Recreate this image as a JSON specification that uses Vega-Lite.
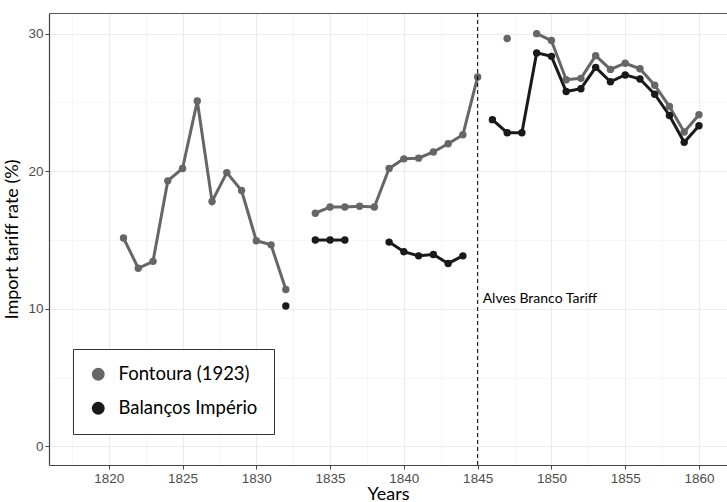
{
  "$schema": "https://vega.github.io/schema/vega-lite/v6.json",
  "width": 678,
  "height": 452,
  "autosize": {"type": "none"},
  "padding": {"left": 49, "top": 13, "right": 0, "bottom": 37},
  "background": "white",
  "config": {
    "view": {"stroke": null},
    "axis": {
      "domainColor": "#444444",
      "domainWidth": 1.2,
      "tickColor": "#444444",
      "tickSize": 4,
      "labelColor": "#4d4d4d",
      "labelFont": "Liberation Sans",
      "labelFontSize": 13.5,
      "titleFont": "Lato",
      "titleFontSize": 18,
      "titleFontWeight": "normal",
      "titleColor": "#000000",
      "gridColor": "#ebebeb",
      "labelOverlap": false,
      "labelFlush": false
    }
  },
  "datasets": {
    "tariffs": [
      {"year": 1821, "rate": 15.15, "source": "Fontoura (1923)", "seg": "A"},
      {"year": 1822, "rate": 12.95, "source": "Fontoura (1923)", "seg": "A"},
      {"year": 1823, "rate": 13.45, "source": "Fontoura (1923)", "seg": "A"},
      {"year": 1824, "rate": 19.3, "source": "Fontoura (1923)", "seg": "A"},
      {"year": 1825, "rate": 20.2, "source": "Fontoura (1923)", "seg": "A"},
      {"year": 1826, "rate": 25.1, "source": "Fontoura (1923)", "seg": "A"},
      {"year": 1827, "rate": 17.8, "source": "Fontoura (1923)", "seg": "A"},
      {"year": 1828, "rate": 19.9, "source": "Fontoura (1923)", "seg": "A"},
      {"year": 1829, "rate": 18.6, "source": "Fontoura (1923)", "seg": "A"},
      {"year": 1830, "rate": 14.95, "source": "Fontoura (1923)", "seg": "A"},
      {"year": 1831, "rate": 14.65, "source": "Fontoura (1923)", "seg": "A"},
      {"year": 1832, "rate": 11.4, "source": "Fontoura (1923)", "seg": "A"},
      {"year": 1834, "rate": 16.95, "source": "Fontoura (1923)", "seg": "B"},
      {"year": 1835, "rate": 17.4, "source": "Fontoura (1923)", "seg": "B"},
      {"year": 1836, "rate": 17.4, "source": "Fontoura (1923)", "seg": "B"},
      {"year": 1837, "rate": 17.45, "source": "Fontoura (1923)", "seg": "B"},
      {"year": 1838, "rate": 17.4, "source": "Fontoura (1923)", "seg": "B"},
      {"year": 1839, "rate": 20.2, "source": "Fontoura (1923)", "seg": "B"},
      {"year": 1840, "rate": 20.9, "source": "Fontoura (1923)", "seg": "B"},
      {"year": 1841, "rate": 20.95, "source": "Fontoura (1923)", "seg": "B"},
      {"year": 1842, "rate": 21.4, "source": "Fontoura (1923)", "seg": "B"},
      {"year": 1843, "rate": 22.0, "source": "Fontoura (1923)", "seg": "B"},
      {"year": 1844, "rate": 22.65, "source": "Fontoura (1923)", "seg": "B"},
      {"year": 1845, "rate": 26.85, "source": "Fontoura (1923)", "seg": "B"},
      {"year": 1847, "rate": 29.65, "source": "Fontoura (1923)", "seg": "C"},
      {"year": 1849, "rate": 30.0, "source": "Fontoura (1923)", "seg": "D"},
      {"year": 1850, "rate": 29.5, "source": "Fontoura (1923)", "seg": "D"},
      {"year": 1851, "rate": 26.65, "source": "Fontoura (1923)", "seg": "D"},
      {"year": 1852, "rate": 26.75, "source": "Fontoura (1923)", "seg": "D"},
      {"year": 1853, "rate": 28.4, "source": "Fontoura (1923)", "seg": "D"},
      {"year": 1854, "rate": 27.4, "source": "Fontoura (1923)", "seg": "D"},
      {"year": 1855, "rate": 27.85, "source": "Fontoura (1923)", "seg": "D"},
      {"year": 1856, "rate": 27.45, "source": "Fontoura (1923)", "seg": "D"},
      {"year": 1857, "rate": 26.25, "source": "Fontoura (1923)", "seg": "D"},
      {"year": 1858, "rate": 24.7, "source": "Fontoura (1923)", "seg": "D"},
      {"year": 1859, "rate": 22.85, "source": "Fontoura (1923)", "seg": "D"},
      {"year": 1860, "rate": 24.1, "source": "Fontoura (1923)", "seg": "D"},
      {"year": 1832, "rate": 10.2, "source": "Balanços Império", "seg": "E"},
      {"year": 1834, "rate": 15.0, "source": "Balanços Império", "seg": "F"},
      {"year": 1835, "rate": 15.0, "source": "Balanços Império", "seg": "F"},
      {"year": 1836, "rate": 15.0, "source": "Balanços Império", "seg": "F"},
      {"year": 1839, "rate": 14.85, "source": "Balanços Império", "seg": "G"},
      {"year": 1840, "rate": 14.15, "source": "Balanços Império", "seg": "G"},
      {"year": 1841, "rate": 13.85, "source": "Balanços Império", "seg": "G"},
      {"year": 1842, "rate": 13.95, "source": "Balanços Império", "seg": "G"},
      {"year": 1843, "rate": 13.3, "source": "Balanços Império", "seg": "G"},
      {"year": 1844, "rate": 13.85, "source": "Balanços Império", "seg": "G"},
      {"year": 1846, "rate": 23.75, "source": "Balanços Império", "seg": "H"},
      {"year": 1847, "rate": 22.8, "source": "Balanços Império", "seg": "H"},
      {"year": 1848, "rate": 22.8, "source": "Balanços Império", "seg": "H"},
      {"year": 1849, "rate": 28.6, "source": "Balanços Império", "seg": "H"},
      {"year": 1850, "rate": 28.35, "source": "Balanços Império", "seg": "H"},
      {"year": 1851, "rate": 25.8, "source": "Balanços Império", "seg": "H"},
      {"year": 1852, "rate": 26.0, "source": "Balanços Império", "seg": "H"},
      {"year": 1853, "rate": 27.55, "source": "Balanços Império", "seg": "H"},
      {"year": 1854, "rate": 26.5, "source": "Balanços Império", "seg": "H"},
      {"year": 1855, "rate": 27.0, "source": "Balanços Império", "seg": "H"},
      {"year": 1856, "rate": 26.7, "source": "Balanços Império", "seg": "H"},
      {"year": 1857, "rate": 25.6, "source": "Balanços Império", "seg": "H"},
      {"year": 1858, "rate": 24.05, "source": "Balanços Império", "seg": "H"},
      {"year": 1859, "rate": 22.1, "source": "Balanços Império", "seg": "H"},
      {"year": 1860, "rate": 23.3, "source": "Balanços Império", "seg": "H"}
    ],
    "events": [
      {"year": 1845, "rate": 10.7, "label": "Alves Branco Tariff"}
    ]
  },
  "resolve": {"axis": {"x": "independent"}},
  "layer": [
    {
      "data": {"name": "tariffs"},
      "mark": {"type": "line", "strokeWidth": 3},
      "encoding": {
        "x": {
          "field": "year", "type": "quantitative",
          "scale": {"domain": [1815.95, 1861.9], "nice": false, "zero": false},
          "axis": {
            "title": "Years",
            "titlePadding": 1,
            "values": [1817.5, 1820, 1822.5, 1825, 1827.5, 1830, 1832.5, 1835, 1837.5, 1840, 1842.5, 1845, 1847.5, 1850, 1852.5, 1855, 1857.5, 1860],
            "format": "d",
            "labelExpr": "datum.value % 5 === 0 ? datum.label : ''",
            "labelPadding": 2,
            "tickOpacity": {"condition": {"test": "datum.value % 5 !== 0", "value": 0}, "value": 1},
            "gridWidth": {"condition": {"test": "datum.value % 5 !== 0", "value": 0.6}, "value": 1},
            "gridColor": {"condition": {"test": "datum.value % 5 !== 0", "value": "#f0f0f0"}, "value": "#ebebeb"}
          }
        },
        "y": {
          "field": "rate", "type": "quantitative",
          "scale": {"domain": [-1.35, 31.5], "nice": false, "zero": false},
          "axis": {
            "title": "Import tariff rate (%)",
            "titlePadding": 6,
            "values": [0, 5, 10, 15, 20, 25, 30],
            "labelExpr": "datum.value % 10 === 0 ? datum.label : ''",
            "labelPadding": 2,
            "tickOpacity": {"condition": {"test": "datum.value % 10 !== 0", "value": 0}, "value": 1},
            "gridWidth": {"condition": {"test": "datum.value % 10 !== 0", "value": 0.6}, "value": 1},
            "gridColor": {"condition": {"test": "datum.value % 10 !== 0", "value": "#f0f0f0"}, "value": "#ebebeb"}
          }
        },
        "color": {
          "field": "source", "type": "nominal",
          "scale": {"domain": ["Fontoura (1923)", "Balanços Império"], "range": ["#666666", "#1a1a1a"]}
        },
        "detail": {"field": "seg", "type": "nominal"}
      }
    },
    {
      "data": {"name": "tariffs"},
      "mark": {"type": "point", "filled": true, "shape": "circle", "size": 55, "opacity": 1},
      "encoding": {
        "x": {"field": "year", "type": "quantitative", "axis": null},
        "y": {"field": "rate", "type": "quantitative"},
        "color": {
          "field": "source", "type": "nominal",
          "scale": {"domain": ["Fontoura (1923)", "Balanços Império"], "range": ["#666666", "#1a1a1a"]},
          "legend": {
            "title": null,
            "orient": "none",
            "legendX": 24,
            "legendY": 336,
            "padding": 16,
            "fillColor": "white",
            "strokeColor": "#333333",
            "labelFont": "Lato",
            "labelFontSize": 18.5,
            "labelColor": "#000000",
            "labelOffset": 11,
            "symbolType": "circle",
            "symbolSize": 165,
            "symbolStrokeWidth": 0,
            "symbolOpacity": 1,
            "rowPadding": 15
          }
        }
      }
    },
    {
      "data": {"name": "events"},
      "mark": {"type": "rule", "color": "#000000", "strokeWidth": 1, "strokeDash": [4, 3]},
      "encoding": {
        "x": {
          "field": "year", "type": "quantitative",
          "axis": {"orient": "top", "title": null, "labels": false, "ticks": false, "grid": false, "domainColor": "#555555", "domainWidth": 1.2}
        }
      }
    },
    {
      "data": {"name": "events"},
      "mark": {"type": "text", "align": "left", "baseline": "middle", "dx": 5, "font": "Lato", "fontSize": 14, "color": "#000000"},
      "encoding": {
        "x": {"field": "year", "type": "quantitative", "axis": null},
        "y": {"field": "rate", "type": "quantitative"},
        "text": {"field": "label"}
      }
    }
  ]
}
